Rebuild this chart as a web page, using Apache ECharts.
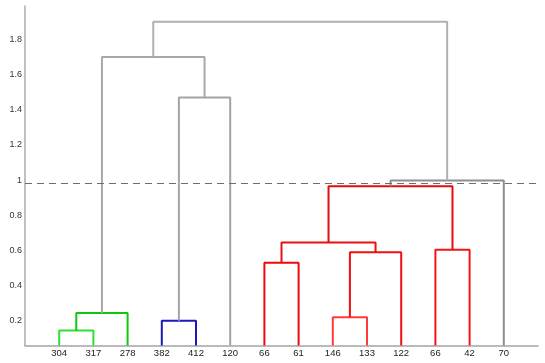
<!DOCTYPE html>
<html>
<head>
<meta charset="utf-8">
<script src="https://cdn.jsdelivr.net/npm/echarts@6/dist/echarts.min.js"></script>
<style>
  html, body { margin: 0; padding: 0; background: #fff; }
  #chart { width: 545px; height: 363px; }
</style>
</head>
<body>
<div id="chart"></div>
<script>
// leaves in the order they are drawn
const leafLabels = ['304', '317', '278', '382', '412', '120', '66', '61', '146', '133', '122', '66', '42', '70'];

// merges: node ids 0..13 are leaves, each merge gets the next id (14, 15, ...)
const mergeLeft   = [0, 14, 3, 16, 8, 18, 6, 20, 11, 21, 23, 15, 25];
const mergeRight  = [1, 2, 4, 5, 9, 10, 7, 19, 12, 22, 13, 17, 24];
const mergeHeight = [0.145, 0.245, 0.20, 1.47, 0.22, 0.59, 0.53, 0.645, 0.605, 0.965, 0.998, 1.70, 1.90];
const mergeColor  = ['#2ee02e', '#10c410', '#1a1ab8', '#a4a4a4', '#ff3a3a', '#f01010', '#ee0a0a',
                     '#e81010', '#f41414', '#e40c0c', '#8e8e8e', '#a8a8a8', '#b0b0b0'];

const yTicks = [0.2, 0.4, 0.6, 0.8, 1, 1.2, 1.4, 1.6, 1.8];
const cutHeight = 0.98;
const yMin = 0.06, yMax = 1.99;

// leaf x = index + 1, node x = middle of its children
const nodeX = leafLabels.map((_, i) => i + 1);
const nodeH = leafLabels.map(() => yMin);
const series = [];
mergeLeft.forEach(function (l, k) {
  const r = mergeRight[k];
  const h = mergeHeight[k];
  series.push({
    type: 'line',
    data: [[nodeX[l], nodeH[l]], [nodeX[l], h], [nodeX[r], h], [nodeX[r], nodeH[r]]],
    showSymbol: false,
    silent: true,
    lineStyle: { color: mergeColor[k], width: 2 }
  });
  nodeX.push((nodeX[l] + nodeX[r]) / 2);
  nodeH.push(h);
});

series.push({
  type: 'line',
  data: [],
  markLine: {
    silent: true,
    symbol: 'none',
    label: { show: false },
    lineStyle: { color: '#6e6e6e', type: [7, 5], width: 1 },
    data: [{ yAxis: cutHeight }]
  }
});

const chart = echarts.init(document.getElementById('chart'));
chart.setOption({
  animation: false,
  grid: { left: 25, right: 7, top: 6, bottom: 17.5 },
  xAxis: {
    type: 'value',
    min: 0,
    max: leafLabels.length + 1,
    splitLine: { show: false },
    axisTick: { show: false },
    axisLine: { lineStyle: { color: '#a4a4a4', width: 1.5 } },
    axisLabel: {
      customValues: leafLabels.map((_, i) => i + 1),
      formatter: v => leafLabels[Math.round(v) - 1] || '',
      color: '#222',
      fontFamily: 'Liberation Sans',
      fontSize: 9.5,
      margin: 3
    }
  },
  yAxis: {
    type: 'value',
    min: yMin,
    max: yMax,
    splitLine: { show: false },
    axisTick: { show: false },
    axisLine: { show: true, lineStyle: { color: '#acacac', width: 1.5 } },
    axisLabel: {
      customValues: yTicks,
      color: '#333',
      fontFamily: 'Liberation Sans',
      fontSize: 9,
      margin: 3
    }
  },
  series: series
});
</script>
</body>
</html>
